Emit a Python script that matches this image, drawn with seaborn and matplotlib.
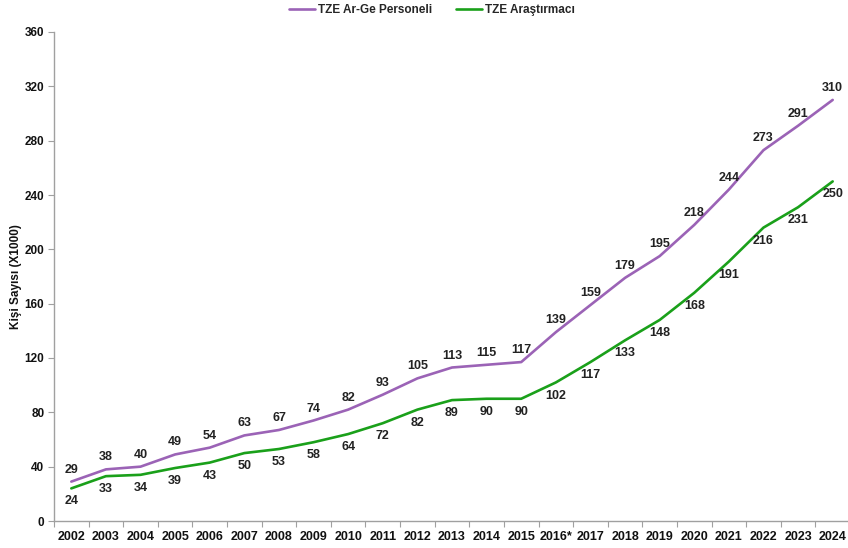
import matplotlib
matplotlib.use("Agg")
import matplotlib.pyplot as plt
from matplotlib.ticker import FixedLocator, MultipleLocator
import seaborn as sns
import pandas as pd

years = ["2002", "2003", "2004", "2005", "2006", "2007", "2008", "2009", "2010",
         "2011", "2012", "2013", "2014", "2015", "2016*", "2017", "2018", "2019",
         "2020", "2021", "2022", "2023", "2024"]
personel = [29, 38, 40, 49, 54, 63, 67, 74, 82, 93, 105, 113, 115, 117, 139,
            159, 179, 195, 218, 244, 273, 291, 310]
arastirmaci = [24, 33, 34, 39, 43, 50, 53, 58, 64, 72, 82, 89, 90, 90, 102,
               117, 133, 148, 168, 191, 216, 231, 250]

series_names = ["TZE Ar-Ge Personeli", "TZE Araştırmacı"]
series_colors = ["#9B63B6", "#1AA01A"]

df = pd.concat([
    pd.DataFrame({"Yıl": years, "Değer": personel, "Seri": series_names[0]}),
    pd.DataFrame({"Yıl": years, "Değer": arastirmaci, "Seri": series_names[1]}),
])

sns.set_theme(style="white")
plt.rcParams["font.family"] = ["Liberation Sans", "DejaVu Sans"]
plt.rcParams["font.weight"] = "bold"

fig = plt.figure(figsize=(8.48, 5.48), dpi=100)
ax = fig.add_axes([54 / 848, 27 / 548, 796 / 848, 489 / 548])

sns.lineplot(data=df, x="Yıl", y="Değer", hue="Seri", palette=series_colors,
             hue_order=series_names, linewidth=1.9, sort=False, ax=ax,
             legend=True)

# value labels: first series above the line, second below
for i, (p, a) in enumerate(zip(personel, arastirmaci)):
    ax.annotate(str(p), (i, p), xytext=(0, 8.6), textcoords="offset points",
                ha="center", va="center", fontsize=9, fontweight="bold",
                color="#222222")
    ax.annotate(str(a), (i, a), xytext=(0, -9.4), textcoords="offset points",
                ha="center", va="center", fontsize=9, fontweight="bold",
                color="#222222")

ax.set_xlim(-0.5, len(years) - 0.5)
ax.set_ylim(0, 360)
ax.yaxis.set_major_locator(MultipleLocator(40))

# category labels centred, tick marks between categories
ax.set_xticks(range(len(years)))
ax.set_xticklabels(years)
ax.xaxis.set_minor_locator(FixedLocator([i - 0.5 for i in range(len(years) + 1)]))
ax.tick_params(axis="x", which="major", length=0, pad=7, labelsize=9,
               labelcolor="#111111")
ax.tick_params(axis="x", which="minor", length=4, width=0.8, color="#A0A0A0",
               direction="out", bottom=True)
ax.tick_params(axis="y", which="major", length=4, width=0.8, color="#A0A0A0",
               direction="out", left=True, pad=3, labelsize=8.5,
               labelcolor="#111111")
for lbl in ax.get_xticklabels() + ax.get_yticklabels():
    lbl.set_fontweight("bold")

ax.set_xlabel("")
ax.set_ylabel("Kişi Sayısı (X1000)", fontsize=8.5, fontweight="bold",
              color="#111111", labelpad=2)

for side in ["top", "right"]:
    ax.spines[side].set_visible(False)
for side in ["left", "bottom"]:
    ax.spines[side].set_color("#A0A0A0")
    ax.spines[side].set_linewidth(1.0)

handles, labels = ax.get_legend_handles_labels()
ax.legend_.remove()
fig.legend(handles, labels, loc="center", bbox_to_anchor=(432 / 848, 1 - 10 / 548),
           ncol=2, frameon=False, handlelength=2.2, handletextpad=0.3,
           columnspacing=2.0, prop={"size": 8.5, "weight": "bold"})

fig.savefig("out.png", dpi=100)
